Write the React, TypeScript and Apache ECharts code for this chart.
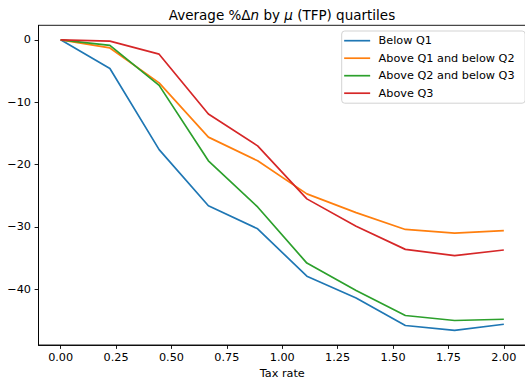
import React, { useEffect, useRef } from "react";
import * as echarts from "echarts";

const taxRate = [0, 0.2222, 0.4444, 0.6667, 0.8889, 1.1111, 1.3333, 1.5556, 1.7778, 2.0];
const belowQ1 = [0, -4.6, -17.6, -26.6, -30.3, -37.9, -41.4, -45.8, -46.6, -45.6];
const q1q2 = [0, -1.3, -6.9, -15.6, -19.4, -24.7, -27.7, -30.4, -31.0, -30.6];
const q2q3 = [0, -0.9, -7.3, -19.4, -26.8, -35.8, -40.2, -44.2, -45.0, -44.8];
const aboveQ3 = [0, -0.2, -2.3, -11.9, -17.0, -25.5, -29.9, -33.6, -34.6, -33.7];
const seriesNames = ["Below Q1", "Above Q1 and below Q2", "Above Q2 and below Q3", "Above Q3"];
const colors = ["#1f77b4", "#ff7f0e", "#2ca02c", "#d62728"];
const xTicks = [0, 0.25, 0.5, 0.75, 1.0, 1.25, 1.5, 1.75, 2.0];
const yTicks = [0, -10, -20, -30, -40];

const FONT = "DejaVu Sans";

export default function App() {
  const ref = useRef<HTMLDivElement>(null);
  useEffect(() => {
    if (!ref.current) return;
    const chart = echarts.init(ref.current, undefined, { renderer: "svg" });
    const allData = [belowQ1, q1q2, q2q3, aboveQ3];
    const axisCommon = {
      axisLine: { show: true, onZero: false, lineStyle: { color: "#000", width: 0.9 } },
      axisTick: { show: true, inside: false, length: 3.9, lineStyle: { color: "#000", width: 0.9 } },
      splitLine: { show: false },
    };
    chart.setOption({
      animation: false,
      backgroundColor: "#fff",
      textStyle: { fontFamily: FONT },
      grid: {
        left: 38.5,
        top: 25.3,
        width: 487.5,
        height: 319.7,
        containLabel: false,
        outerBoundsMode: "none",
        show: true,
        borderColor: "#000",
        borderWidth: 0.9,
        backgroundColor: "transparent",
      },
      xAxis: {
        type: "value",
        min: -0.1,
        max: 2.1,
        ...axisCommon,
        axisTick: { ...axisCommon.axisTick, customValues: xTicks },
        axisLabel: {
          customValues: xTicks,
          formatter: (v: number) => v.toFixed(2),
          color: "#000",
          fontSize: 11.25,
          fontFamily: FONT,
          margin: 6.5,
        },
        name: "Tax rate",
        nameLocation: "middle",
        nameGap: 22.8,
        nameTextStyle: { color: "#000", fontSize: 11.25, fontFamily: FONT, lineHeight: 11, padding: 0 },
      },
      yAxis: {
        type: "value",
        min: -48.93,
        max: 2.33,
        ...axisCommon,
        axisTick: { ...axisCommon.axisTick, customValues: yTicks },
        axisLabel: {
          customValues: yTicks,
          formatter: (v: number) => String(v).replace("-", "\u2212"),
          color: "#000",
          fontSize: 11.25,
          fontFamily: FONT,
          margin: 7.5,
        },
      },
      legend: {
        orient: "vertical",
        left: 341.7,
        top: 31,
        padding: [3.7, 10.5, 4, 1.6],
        itemWidth: 26,
        itemHeight: 12,
        itemGap: 5.5,
        borderColor: "#d3d3d3",
        borderWidth: 1,
        borderRadius: 3,
        backgroundColor: "rgba(255,255,255,0.8)",
        itemStyle: { opacity: 0 },
        lineStyle: { width: 1.7 },
        textStyle: { color: "#000", fontSize: 11.25, fontFamily: FONT, padding: [0, 0, 0, 3.4], lineHeight: 12 },
        data: seriesNames,
      },
      graphic: [
        {
          type: "text",
          x: 282,
          y: 14.5,
          style: {
            text: "{a|Average %\u0394}{i|n}{a| by }{i|\u03bc}{a| (TFP) quartiles}",
            rich: {
              a: { fontSize: 13.5, fontFamily: FONT, fill: "#000", color: "#000" },
              i: { fontSize: 13.5, fontFamily: FONT, fontStyle: "italic", fill: "#000", color: "#000" },
            },
            fontSize: 13.5,
            fontFamily: FONT,
            fill: "#000",
            textAlign: "center",
            textVerticalAlign: "middle",
            align: "center",
            verticalAlign: "middle",
          },
        },
      ],
      series: allData.map((d, k) => ({
        name: seriesNames[k],
        type: "line",
        data: d.map((v, i) => [taxRate[i], v]),
        symbol: "none",
        showSymbol: false,
        color: colors[k],
        lineStyle: { color: colors[k], width: 1.7 },
        z: 2 + k,
      })),
    });
    return () => chart.dispose();
  }, []);
  return <div ref={ref} style={{ position: "absolute", left: 0, top: 0, width: 525, height: 379 }} />;
}
